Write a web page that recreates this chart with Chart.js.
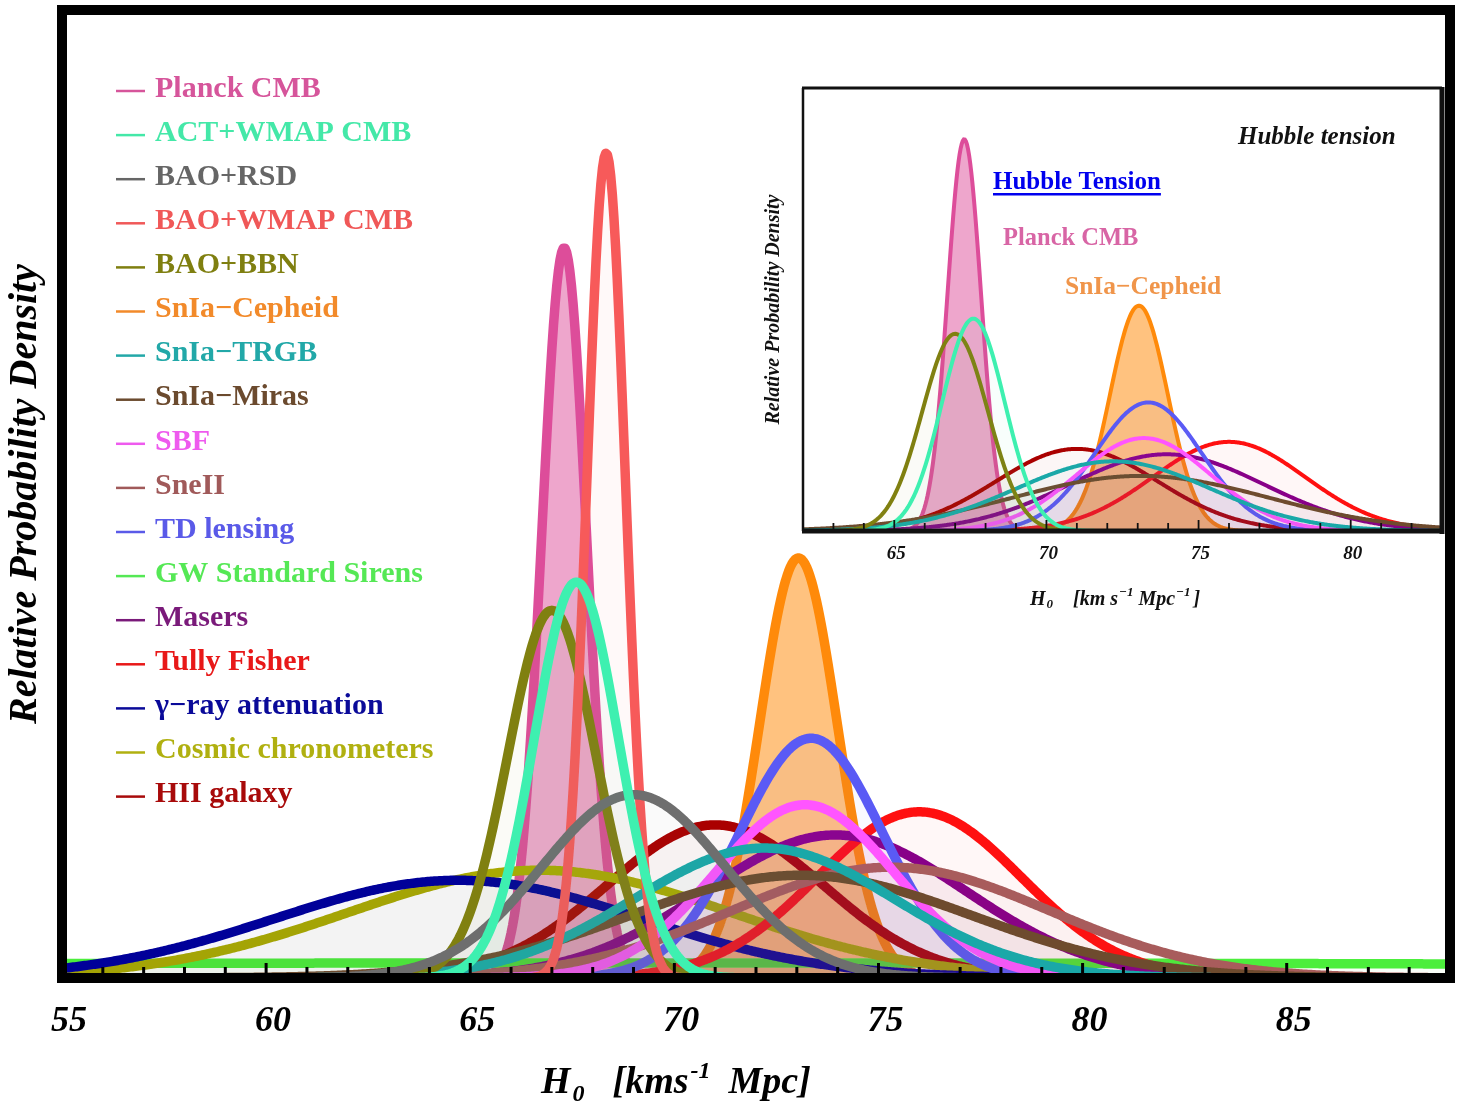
<!DOCTYPE html>
<html><head><meta charset="utf-8">
<script src="https://cdn.jsdelivr.net/npm/chart.js@4.4.0/dist/chart.umd.min.js"></script>
<style>
html,body{margin:0;padding:0;background:#fff;}
#wrap{position:relative;width:1460px;height:1104px;overflow:hidden;}
#main{position:absolute;left:0;top:0;}
#inset{position:absolute;left:750px;top:80px;}
</style></head><body>
<div id="wrap"><canvas id="main" width="1460" height="1104"></canvas><canvas id="inset" width="705" height="540"></canvas></div>
<script>
// ---------------- data ----------------
const names = ['Planck CMB','ACT+WMAP CMB','BAO+RSD','BAO+WMAP CMB','BAO+BBN','SnIa\u2212Cepheid','SnIa\u2212TRGB','SnIa\u2212Miras','SBF','SneII','TD lensing','GW Standard Sirens','Masers','Tully Fisher','\u03b3\u2212ray attenuation','Cosmic chronometers','HII galaxy'];
// H0 centre of each probability curve
const means  = [67.3, 67.6, 69.0, 68.33, 67.0, 73.04, 72.2, 73.1, 73.2, 75.3, 73.35, 70.0, 73.95, 76.0, 64.7, 66.7, 71.0];
// width (1 sigma) of each curve
const sigmas = [0.55, 1.03, 2.25, 0.47, 1.08, 0.95, 3.2, 4.2, 2.2, 3.9, 1.75, 50, 3.2, 2.5, 4.5, 4.7, 2.65];
// peak relative probability density
const peaks  = [0.725, 0.393, 0.182, 0.819, 0.365, 0.417, 0.129, 0.102, 0.172, 0.110, 0.238, 0.015, 0.142, 0.165, 0.097, 0.107, 0.152];
// curves repeated in the inset
const insetNames = ['Planck CMB','ACT+WMAP CMB','BAO+BBN','SnIa\u2212Cepheid','SnIa\u2212TRGB','SnIa\u2212Miras','SBF','TD lensing','Masers','Tully Fisher','HII galaxy'];
const mainTicks  = [55, 60, 65, 70, 75, 80, 85];
const insetTicks = [65, 70, 75, 80];

// ---------------- styles ----------------
const lineColors = ['#dd4d9a','#3ef0b0','#6e6e6e','#f75a5a','#808010','#ff8a0a','#1aa8a8','#6e4b2e','#ff55ff','#a85c5c','#5a5af5','#4cee3c','#880088','#ff1010','#000099','#aaaa00','#aa0000'];
const textColors = ['#d6559b','#44e8a8','#666666','#f05858','#7f7f10','#f28a2a','#22a8a8','#6b4a2e','#ee5aee','#a05a5a','#5a5ae8','#55e855','#7a1a7a','#e81818','#0a0a99','#b0b010','#a80a0a'];
const drawOrder = [20,0,0,0,0,19,0,0,0,0,0,18,0,0,0,0,0];

function rgba(hex, a){const n=parseInt(hex.slice(1),16);return `rgba(${n>>16&255},${n>>8&255},${n&255},${a})`;}
function fillFor(i){ if(i===0) return rgba(lineColors[0],0.5); if(i===5) return rgba('#ff8a0a',0.52); return rgba(lineColors[i],0.035); }
function curve(i, lo, hi, n){const p=[];for(let k=0;k<=n;k++){const x=lo+(hi-lo)*k/n;const z=(x-means[i])/sigmas[i];p.push({x:x,y:peaks[i]*Math.exp(-0.5*z*z)});}return p;}

const SERIF = '"Liberation Serif", "Times New Roman", serif';

// ---------------- main chart ----------------
const mainFrame = {
  id:'mainFrame',
  beforeDatasetsDraw(chart){
    const ctx=chart.ctx,a=chart.chartArea;
    ctx.save();
    ctx.font='bold 30px '+SERIF; ctx.textBaseline='middle';
    names.forEach((n,i)=>{
      const y=a.top+79+i*44.1, x0=a.left+54;
      ctx.strokeStyle=textColors[i]; ctx.lineWidth=2.5;
      ctx.beginPath(); ctx.moveTo(x0,y+2); ctx.lineTo(x0+29,y+2); ctx.stroke();
      ctx.fillStyle=textColors[i]; ctx.fillText(n,x0+39,y);
    });
    ctx.restore();
  },
  afterDraw(chart){
    const ctx=chart.ctx,a=chart.chartArea,xs=chart.scales.x;
    ctx.save();
    ctx.strokeStyle='#000'; ctx.lineWidth=10;
    ctx.strokeRect(a.left,a.top,a.right-a.left,a.bottom-a.top);
    ctx.lineWidth=3;
    for(let v=55;v<=89;v++){const px=xs.getPixelForValue(v);const L=(v%5===0)?10:6;ctx.beginPath();ctx.moveTo(px,a.bottom-5);ctx.lineTo(px,a.bottom-5-L);ctx.stroke();}
    // x-axis title with subscript / superscript
    ctx.fillStyle='#000'; ctx.textBaseline='alphabetic';
    let x=a.left+479; const yb=1093;
    ctx.font='bold italic 38px '+SERIF; ctx.fillText('H',x,yb); x+=ctx.measureText('H').width+2;
    ctx.font='bold italic 24px '+SERIF; ctx.fillText('0',x,yb+8); x+=ctx.measureText('0').width+28;
    ctx.font='bold italic 38px '+SERIF; ctx.fillText('[kms',x,yb); x+=ctx.measureText('[kms').width+2;
    ctx.font='bold italic 24px '+SERIF; ctx.fillText('-1',x,yb-15); x+=ctx.measureText('-1').width+18;
    ctx.font='bold italic 38px '+SERIF; ctx.fillText('Mpc]',x,yb);
    ctx.restore();
  }
};

new Chart(document.getElementById('main'),{
  type:'line',
  data:{datasets:names.map((n,i)=>({label:n,data:curve(i,55,89,850),borderColor:lineColors[i],backgroundColor:fillFor(i),fill:'origin',borderWidth:9.5,pointRadius:0,tension:0,order:drawOrder[i],borderJoinStyle:'round',borderCapStyle:'round'}))},
  options:{
    responsive:false,animation:false,devicePixelRatio:1,
    layout:{padding:{left:0,top:10,right:10,bottom:0}},
    plugins:{legend:{display:false},tooltip:{enabled:false}},
    scales:{
      x:{type:'linear',min:55,max:89,
        afterBuildTicks:s=>{s.ticks=mainTicks.map(v=>({value:v}));},
        afterFit:s=>{s.height=126;},
        grid:{display:false,drawTicks:false},border:{display:false},
        ticks:{autoSkip:false,maxRotation:0,padding:22,labelOffset:7,color:'#000',font:{family:SERIF,size:36,weight:'bold',style:'italic'}}},
      y:{type:'linear',min:0,max:0.961,
        afterFit:s=>{s.width=62;},
        grid:{display:false,drawTicks:false},border:{display:false},
        ticks:{display:false},
        title:{display:true,text:'Relative Probability Density',color:'#000',padding:{top:2,bottom:4},font:{family:SERIF,size:40,weight:'bold',style:'italic'}}}
    }
  },
  plugins:[mainFrame]
});

// ---------------- inset chart ----------------
const insetIdx = insetNames.map(n=>names.indexOf(n));
const insetDeco = {
  id:'insetDeco',
  beforeDatasetsDraw(chart){const ctx=chart.ctx,a=chart.chartArea;ctx.save();ctx.fillStyle='#fff';ctx.fillRect(a.left,a.top,a.right-a.left,a.bottom-a.top);ctx.restore();},
  afterDraw(chart){
    const ctx=chart.ctx,a=chart.chartArea,xs=chart.scales.x;
    ctx.save(); ctx.strokeStyle='#111';
    ctx.lineWidth=3; ctx.beginPath(); ctx.moveTo(a.left-1,a.top); ctx.lineTo(a.right,a.top); ctx.stroke();
    ctx.lineWidth=2.5; ctx.beginPath(); ctx.moveTo(a.left,a.top); ctx.lineTo(a.left,a.bottom); ctx.stroke();
    ctx.lineWidth=5; ctx.beginPath(); ctx.moveTo(a.right,a.top-1); ctx.lineTo(a.right,a.bottom+3); ctx.stroke();
    ctx.beginPath(); ctx.moveTo(a.left-1,a.bottom); ctx.lineTo(a.right+2,a.bottom); ctx.stroke();
    ctx.lineWidth=1.8;
    for(let v=62;v<=83;v++){const px=xs.getPixelForValue(v);const L=(v%5===0)?9:6;ctx.beginPath();ctx.moveTo(px,a.bottom-2);ctx.lineTo(px,a.bottom-2-L);ctx.stroke();}
    // annotations
    ctx.textBaseline='middle';
    ctx.fillStyle='#111'; ctx.font='bold italic 25px '+SERIF; ctx.fillText('Hubble tension',488,58);
    ctx.fillStyle='#0000ee'; ctx.font='bold 25px '+SERIF; ctx.fillText('Hubble Tension',243,103);
    const w=ctx.measureText('Hubble Tension').width; ctx.fillRect(243,113,w,2.5);
    ctx.fillStyle='#d865a5'; ctx.font='bold 24.5px '+SERIF; ctx.fillText('Planck CMB',253,159);
    ctx.fillStyle='#f0954a'; ctx.font='bold 25.5px '+SERIF; ctx.fillText('SnIa\u2212Cepheid',315,207);
    // x title
    ctx.fillStyle='#111'; ctx.textBaseline='alphabetic';
    let x=280; const yb=525;
    ctx.font='bold italic 20px '+SERIF; ctx.fillText('H',x,yb); x+=ctx.measureText('H').width+1;
    ctx.font='bold italic 13px '+SERIF; ctx.fillText('0',x,yb+3); x+=ctx.measureText('0').width+20;
    ctx.font='bold italic 20px '+SERIF; ctx.fillText('[km s',x,yb); x+=ctx.measureText('[km s').width+1;
    ctx.font='bold italic 13px '+SERIF; ctx.fillText('\u22121',x,yb-9); x+=ctx.measureText('\u22121').width+5;
    ctx.font='bold italic 20px '+SERIF; ctx.fillText('Mpc',x,yb); x+=ctx.measureText('Mpc').width+1;
    ctx.font='bold italic 13px '+SERIF; ctx.fillText('\u22121',x,yb-9); x+=ctx.measureText('\u22121').width+3;
    ctx.font='bold italic 20px '+SERIF; ctx.fillText(']',x,yb);
    ctx.restore();
  }
};

new Chart(document.getElementById('inset'),{
  type:'line',
  data:{datasets:insetIdx.map(i=>({label:names[i],data:curve(i,62,83,600),borderColor:lineColors[i],backgroundColor:fillFor(i),fill:'origin',borderWidth:4,pointRadius:0,tension:0,order:drawOrder[i]}))},
  options:{
    responsive:false,animation:false,devicePixelRatio:1,
    layout:{padding:{left:8,top:8,right:13,bottom:0}},
    plugins:{legend:{display:false},tooltip:{enabled:false}},
    scales:{
      x:{type:'linear',min:62,max:83,
        afterBuildTicks:s=>{s.ticks=insetTicks.map(v=>({value:v}));},
        afterFit:s=>{s.height=89;},
        grid:{display:false,drawTicks:false},border:{display:false},
        ticks:{autoSkip:false,maxRotation:0,padding:12,labelOffset:2,color:'#111',font:{family:SERIF,size:19,weight:'bold',style:'italic'}}},
      y:{type:'linear',min:0,max:0.82,
        afterFit:s=>{s.width=45;},
        grid:{display:false,drawTicks:false},border:{display:false},
        ticks:{display:false},
        title:{display:true,text:'Relative Probability Density',color:'#111',padding:{top:4,bottom:4},font:{family:SERIF,size:20,weight:'bold',style:'italic'}}}
    }
  },
  plugins:[insetDeco]
});
</script>
</body></html>
